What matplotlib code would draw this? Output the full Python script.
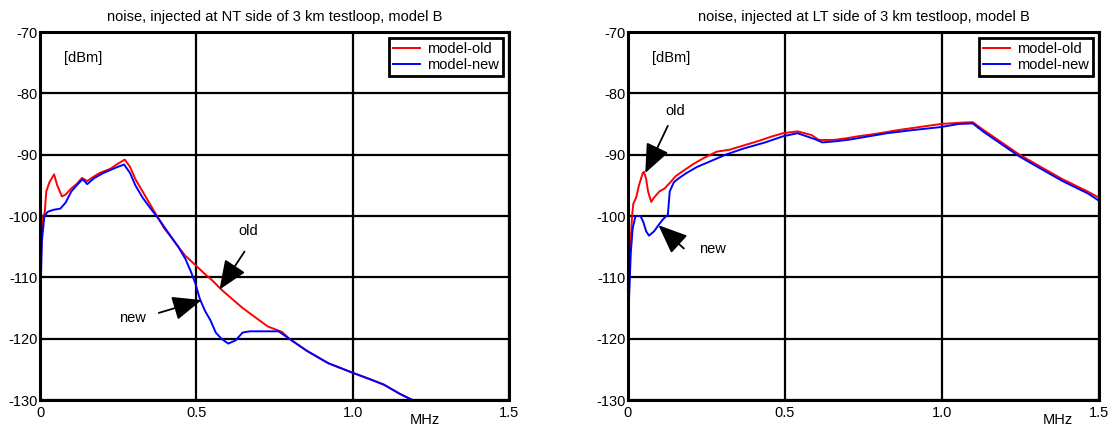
import matplotlib
matplotlib.use('Agg')
import matplotlib.pyplot as plt

plt.rcParams['font.family'] = ['Liberation Sans', 'DejaVu Sans']
plt.rcParams['axes.unicode_minus'] = False

# NT side (left panel)
nt_old_x = [0, 0.005, 0.01, 0.015, 0.02, 0.03, 0.045, 0.055, 0.07, 0.082, 0.1, 0.117, 0.134, 0.151,
            0.168, 0.19, 0.225, 0.248, 0.271, 0.288, 0.305, 0.328, 0.351, 0.374, 0.397, 0.42,
            0.442, 0.465, 0.497, 0.528, 0.551, 0.58, 0.614, 0.648, 0.688, 0.728, 0.774, 0.797,
            0.854, 0.922, 0.997, 1.06, 1.1, 1.151, 1.191]
nt_old_y = [-110, -104, -100, -99.5, -96, -94.5, -93.2, -95, -96.8, -96.5, -95.5, -94.8, -93.8, -94.3,
            -93.7, -93, -92.3, -91.5, -90.8, -92, -94, -96, -98, -100, -102, -103.5,
            -105, -106.5, -108, -109.5, -110.5, -112, -113.5, -115, -116.5, -118, -118.9, -120,
            -122, -124, -125.5, -126.7, -127.5, -129, -130]
nt_new_x = [0, 0.003, 0.006, 0.014, 0.025, 0.042, 0.065, 0.082, 0.1, 0.117, 0.136, 0.151, 0.174,
            0.202, 0.225, 0.248, 0.269, 0.288, 0.305, 0.328, 0.357, 0.38, 0.414, 0.442, 0.465,
            0.482, 0.497, 0.511, 0.528, 0.545, 0.562, 0.58, 0.602, 0.625, 0.648, 0.671, 0.763,
            0.797, 0.854, 0.922, 0.997, 1.06, 1.1, 1.151, 1.191]
nt_new_y = [-118, -110, -104, -100, -99.3, -99, -98.8, -97.8, -96, -95, -94, -94.8, -93.8,
            -93, -92.5, -92, -91.6, -93, -95, -97, -99, -100.5, -103, -105, -107,
            -109, -111, -113.5, -115.5, -117, -119, -120, -120.8, -120.3, -119, -118.8, -118.8,
            -120, -122, -124, -125.5, -126.7, -127.5, -129, -130]

# LT side (right panel)
lt_old_x = [0, 0.006, 0.013, 0.017, 0.026, 0.035, 0.047, 0.051, 0.058, 0.064, 0.074, 0.083, 0.1,
            0.117, 0.135, 0.152, 0.18, 0.209, 0.243, 0.283, 0.323, 0.368, 0.414, 0.46, 0.494,
            0.54, 0.585, 0.608, 0.654, 0.699, 0.733, 0.79, 0.859, 0.927, 0.996, 1.053, 1.098,
            1.133, 1.19, 1.247, 1.315, 1.384, 1.464, 1.5]
lt_old_y = [-117, -107, -100, -98, -97, -95, -93, -92.8, -94, -96, -97.7, -97, -96,
            -95.5, -94.5, -93.5, -92.5, -91.5, -90.5, -89.5, -89.2, -88.5, -87.8, -87, -86.5,
            -86.2, -86.8, -87.6, -87.6, -87.3, -87, -86.6, -86, -85.5, -85, -84.8, -84.7,
            -86, -88, -90, -92, -94, -96, -97]
lt_new_x = [0, 0.009, 0.015, 0.024, 0.04, 0.049, 0.058, 0.067, 0.083, 0.097, 0.112, 0.127,
            0.133, 0.146, 0.163, 0.186, 0.22, 0.266, 0.311, 0.368, 0.437, 0.494, 0.54, 0.597,
            0.619, 0.665, 0.711, 0.768, 0.825, 0.905, 0.996, 1.053, 1.098, 1.133, 1.19, 1.247,
            1.315, 1.384, 1.464, 1.5]
lt_new_y = [-118, -106, -102, -100, -100, -101, -102.5, -103.2, -102.5, -101.5, -100.5, -99.8,
            -96, -94.5, -93.8, -93, -92, -91, -90, -89, -88, -87, -86.5, -87.5,
            -88, -87.8, -87.5, -87, -86.5, -86, -85.5, -85, -84.9, -86.3, -88.3, -90.3,
            -92.3, -94.3, -96.3, -97.5]

titles = ['noise, injected at NT side of 3 km testloop, model B',
          'noise, injected at LT side of 3 km testloop, model B']
xticks = [0, 0.5, 1.0, 1.5]
xticklabels = ['0', '0.5', '1.0', '1.5']
yticks = [-130, -120, -110, -100, -90, -80, -70]
mhz_x = [1.23, 1.37]

# annotations: (text, text pos, arrow tail, arrow head)
notes = [
    [('old', (0.665, -102.5), (0.654, -105.8), (0.574, -112.0)),
     ('new', (0.296, -116.7), (0.38, -115.8), (0.517, -113.7))],
    [('old', (0.152, -82.9), (0.127, -85.3), (0.055, -93.0)),
     ('new', (0.269, -105.3), (0.178, -105.3), (0.097, -101.5))],
]

fs = 10.5

fig = plt.figure(figsize=(11.15, 4.28), dpi=100)
ax1 = fig.add_axes([0.0359, 0.0654, 0.4206, 0.8598])
ax2 = fig.add_axes([0.5632, 0.0654, 0.4224, 0.8598])

series = [(nt_old_x, nt_old_y, nt_new_x, nt_new_y), (lt_old_x, lt_old_y, lt_new_x, lt_new_y)]

for i, ax in enumerate([ax1, ax2]):
    ox, oy, nx, ny = series[i]
    ax.plot(ox, oy, color='#ff0000', lw=1.4, label='model-old')
    ax.plot(nx, ny, color='#0000ff', lw=1.4, label='model-new')
    ax.set_xlim(0, 1.5)
    ax.set_ylim(-130, -70)
    ax.set_xticks(xticks)
    ax.set_xticklabels(xticklabels)
    ax.set_yticks(yticks)
    ax.grid(True, color='black', lw=1.6)
    ax.tick_params(axis='y', length=0, labelsize=fs, pad=1.5)
    ax.tick_params(axis='x', length=0, labelsize=fs, pad=4.5)
    for s in ax.spines.values():
        s.set_linewidth(2.2)
    ax.set_title(titles[i], fontsize=fs, pad=8)
    ax.text(0.077, -74.2, '[dBm]', fontsize=fs, va='center')
    ax.text(mhz_x[i], -133.3, 'MHz', fontsize=fs, ha='center', va='center')
    leg = ax.legend(loc='upper right', fontsize=fs, fancybox=False, framealpha=1,
                    borderaxespad=0.4, handlelength=1.8, handletextpad=0.5,
                    borderpad=0.3, labelspacing=0.1)
    leg.get_frame().set_edgecolor('black')
    leg.get_frame().set_linewidth(2)
    for txt, tpos, tail, head in notes[i]:
        ax.text(tpos[0], tpos[1], txt, fontsize=fs, ha='center', va='center')
        ax.annotate('', xy=head, xytext=tail,
                    arrowprops=dict(arrowstyle='-|>,head_length=1.8,head_width=0.75',
                                    color='black', lw=1.3, shrinkA=0, shrinkB=0))

fig.savefig('out.png', dpi=100)
